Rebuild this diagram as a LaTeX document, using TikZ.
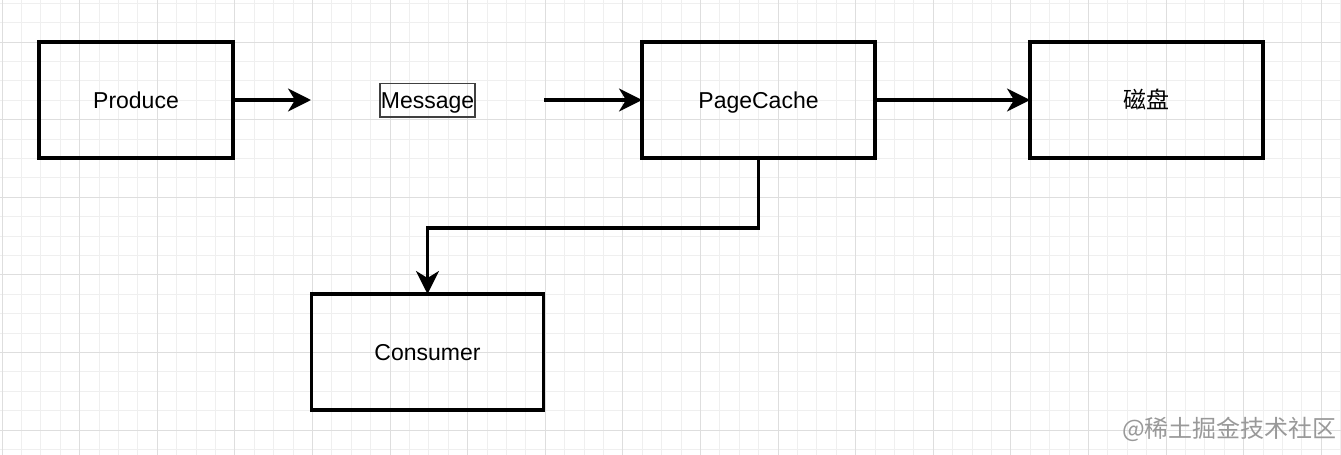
\documentclass[tikz,border=0pt]{standalone}
\usepackage{fontspec}
\setmainfont{Liberation Sans}
\newfontfamily\cjk{Noto Sans CJK SC}
\usepackage{xcolor}
\usepackage{tikz}
\usetikzlibrary{arrows.meta,positioning}
\definecolor{gridminor}{HTML}{EFEFEF}
\definecolor{gridmajor}{HTML}{DEDEDE}
\tikzset{
  B/.style={draw, rectangle, line width=3.6pt, minimum width=233pt,
            minimum height=116pt, inner sep=0pt, outer sep=0pt,
            text height=16.5pt, text depth=0pt,
            font=\fontsize{23}{27}\selectfont},
  SA/.style={-{Stealth[length=23pt,width=23pt,inset=7pt]}, line width=3.2pt}
}

\begin{document}
\begin{tikzpicture}[x=1pt,y=-1pt]
\useasboundingbox (0,0) rectangle (1341,455);
\fill[white] (0,0) rectangle (1341,455);

% ---- background grid ----
\foreach \i in {0,...,69}
  \draw[gridminor, line width=1pt] ({2+19.4*\i},0) -- ++(0,455);
\foreach \j in {0,...,23}
  \draw[gridminor, line width=1pt] (0,{3.2+19.4*\j}) -- ++(1341,0);
\foreach \i in {0,...,17}
  \draw[gridmajor, line width=1pt] ({2+77.6*\i},0) -- ++(0,455);
\foreach \j in {0,...,5}
  \draw[gridmajor, line width=1pt] (0,{42+77.6*\j}) -- ++(1341,0);

% ---- top row ----
\node[B, minimum width=194pt] (prod) at (136,100) {Produce};
\node[B, draw=none, right=78pt of prod] (msg) {};
\node[draw=black!75, line width=1.5pt, inner xsep=1pt, inner ysep=8.5pt,
      text height=16.5pt, text depth=0pt, font=\fontsize{23}{27}\selectfont]
      (msglabel) at (msg) {Message};
\node[B, right=98pt of msg] (pc) {PageCache};
\node[B, right=155pt of pc] (disk) {\cjk 磁盘};

% ---- bottom row ----
\node[B, minimum width=232pt, below=136pt of msg] (cons) {Consumer};

% ---- watermark ----
\node[anchor=east, text=black!40, inner sep=0pt,
      font=\cjk\fontsize{24}{28}\selectfont] (mark) at (1337,429)
    {@稀土掘金技术社区};

% ---- arrows ----
\draw[SA] (prod) -- (msg);
\draw[SA] (msg)  -- (pc);
\draw[SA] (pc)   -- (disk);
\draw[SA] (pc.south) -- ++(0,70) -| (cons.north);

\end{tikzpicture}
\end{document}
